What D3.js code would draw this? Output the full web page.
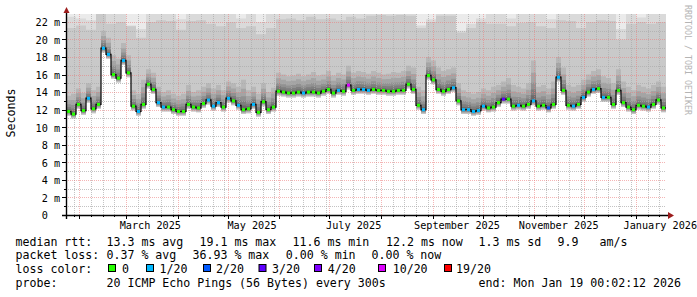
<!DOCTYPE html>
<html>
<head>
<meta charset="utf-8">
<script src="https://cdn.jsdelivr.net/npm/d3@7"></script>
<style>
  html, body { margin: 0; padding: 0; background: #fff; }
  svg { display: block; }
  text { font-family: "DejaVu Sans Mono", "Liberation Mono", monospace; white-space: pre; }
</style>
</head>
<body>
<svg id="chart" width="697" height="297"></svg>
<script>
// ---------------- data ----------------
const endTime = new Date(Date.UTC(2026, 0, 19, 0, 2, 12));
const spanDays = 360;
const stepDays = 3;          // one value every 3 days
const yMax = 22.9;           // ms, top of the plot

// median rtt (ms), one value per 3 days
const median = [
  11.8, 11.5, 12.6, 11.9, 13.3, 12.1, 12.6, 19.0, 18.3, 16.0,
  15.6, 17.6, 16.2, 12.4, 11.8, 12.6, 14.9, 14.3, 12.8, 12.3,
  12.3, 12.0, 11.8, 11.8, 12.6, 12.3, 12.2, 12.7, 13.1, 12.4,
  12.8, 12.3, 13.3, 13.0, 12.5, 12.0, 12.1, 12.6, 11.7, 12.9,
  12.0, 12.3, 14.1, 14.0, 13.9, 13.9, 14.0, 13.9, 14.0, 14.0,
  13.9, 14.1, 14.3, 13.9, 14.2, 14.1, 14.8, 14.2, 14.3, 14.3,
  14.2, 14.3, 14.2, 14.2, 14.1, 14.1, 14.2, 14.2, 14.9, 14.3,
  12.5, 12.0, 15.9, 15.4, 14.3, 14.1, 14.3, 14.5, 13.0, 12.0,
  12.0, 11.8, 11.9, 12.4, 12.2, 12.3, 12.8, 13.2, 13.2, 12.4,
  12.5, 12.4, 12.6, 13.0, 12.4, 12.5, 12.2, 12.6, 15.7, 14.2,
  12.5, 12.4, 12.6, 13.4, 14.0, 14.3, 14.4, 13.4, 13.4, 12.6,
  14.2, 12.8, 12.3, 12.0, 12.5, 12.4, 12.3, 12.6, 13.1, 12.2
];

// lost pings out of 20, per median value
const loss = [
  0, 0, 0, 0, 1, 0, 0, 1, 1, 0,
  0, 1, 0, 0, 1, 0, 0, 0, 1, 1,
  0, 0, 0, 0, 0, 0, 0, 0, 1, 1,
  1, 0, 1, 0, 1, 0, 0, 1, 0, 0,
  0, 0, 0, 0, 0, 0, 0, 1, 0, 0,
  0, 0, 0, 0, 1, 0, 10, 0, 1, 1,
  1, 0, 0, 0, 0, 0, 0, 0, 0, 0,
  0, 1, 0, 0, 0, 0, 0, 1, 0, 1,
  1, 1, 1, 1, 0, 0, 0, 3, 0, 0,
  1, 0, 0, 1, 0, 0, 2, 0, 1, 0,
  0, 1, 0, 1, 0, 1, 0, 1, 0, 0,
  0, 0, 0, 0, 0, 0, 1, 0, 0, 0
];

// upper edge of the dense smoke above the median (ms), per median value
const smokeUpper = [
  13.6, 13.8, 14.4, 13.9, 15.0, 14.2, 14.6,
  21.0, 20.2, 18.2, 17.8, 19.6, 18.2,
  14.2, 13.8,
  15.4, 16.6, 16.2,
  14.6, 14.0, 14.2, 13.8, 13.6, 13.8,
  14.8, 14.0, 14.2, 14.6, 15.0, 14.4, 14.8, 14.2, 15.2, 15.0,
  14.6, 15.4, 14.2, 14.6, 13.8, 15.0, 14.0, 14.5,
  16.2, 16.0, 15.8, 15.9, 16.1, 15.8, 16.0, 16.3, 15.9, 16.0, 16.4, 15.9, 16.2,
  16.0, 17.0, 16.2, 16.4, 16.3, 16.1, 16.4, 16.2, 16.0, 16.1, 16.3, 16.2, 16.4,
  17.0, 16.8,
  14.6, 14.2,
  18.0, 17.6, 16.8, 16.4, 16.6, 16.8,
  15.0, 14.2, 14.0, 13.8, 14.0, 14.4, 14.2, 14.6,
  14.8, 15.2, 15.6, 14.8, 14.6, 14.4, 15.0, 17.6, 14.6, 14.8, 14.4, 15.2,
  18.0, 16.8,
  14.8, 14.6, 14.8, 15.4, 16.0, 16.4, 16.6, 15.8, 15.6, 15.0,
  16.6, 15.2, 14.6, 14.2, 14.8, 14.6, 14.4, 14.8, 15.2, 14.6
];

// 3rd highest ping (ms), one value per 6 days
const pingHigh = [
  21.3, 21.6, 21.1, 22.9, 21.8, 22.0, 21.5, 20.2, 22.0, 22.2,
  22.1, 21.1, 22.1, 22.2, 21.8, 21.5, 22.0, 21.3, 21.5, 20.6,
  21.3, 22.3, 22.4, 22.2, 22.6, 22.3, 22.4, 22.2, 22.6, 22.4,
  22.7, 22.8, 22.7, 22.8, 22.7, 21.3, 22.0, 22.7, 22.7, 20.8,
  21.3, 22.0, 21.8, 21.8, 21.5, 21.9, 22.0, 21.5, 21.3, 22.2,
  22.1, 21.3, 22.0, 22.2, 22.1, 20.0, 21.8, 22.0, 21.8, 22.0
];

// 2nd highest ping (ms), one value per 6 days
const pingHigher = [
  22.6, 22.4, 22.2, 23.0, 23.0, 23.0, 21.6, 21.2, 23.0, 23.0,
  23.0, 22.3, 23.0, 23.0, 23.0, 23.0, 23.0, 22.4, 23.0, 22.0,
  23.0, 23.0, 23.0, 23.0, 23.0, 23.0, 23.0, 23.0, 23.0, 23.0,
  23.0, 23.0, 23.0, 23.0, 23.0, 21.6, 22.3, 23.0, 23.0, 21.0,
  21.8, 22.4, 23.0, 23.0, 22.4, 23.0, 23.0, 23.0, 22.3, 23.0,
  23.0, 23.0, 23.0, 23.0, 23.0, 21.2, 23.0, 22.5, 23.0, 23.0
];

const yTickValues = [0, 2, 4, 6, 8, 10, 12, 14, 16, 18, 20, 22];
const xLabelMonths = ["2025-03", "2025-05", "2025-07", "2025-09", "2025-11", "2026-01"];

const lossLevels = [0, 1, 2, 3, 4, 10, 19];
const lossLabels = ["0", "1/20", "2/20", "3/20", "4/20", "10/20", "19/20"];

const rttStats = ["13.3 ms avg", "19.1 ms max", "11.6 ms min", "12.2 ms now", "1.3 ms sd", "9.9", "am/s"];
const lossStats = ["0.37 % avg", "36.93 % max", "0.00 % min", "0.00 % now"];
const probeText = "20 ICMP Echo Pings (56 Bytes) every 300s";
const endText = "end: Mon Jan 19 00:02:12 2026";

// ---------------- styles / layout ----------------
const lossColors = ["#26ff00", "#00b8ff", "#0059ff", "#5e00ff", "#7e00ff", "#dd00ff", "#ff0000"];
const P = { left: 66, right: 666, top: 14, bottom: 215 };

const svg = d3.select("#chart");
const startTime = d3.utcDay.offset(endTime, -spanDays);
const x = d3.scaleUtc().domain([startTime, endTime]).range([P.left, P.right]);
const y = d3.scaleLinear().domain([0, yMax]).range([P.bottom, P.top]);

const rows = median.map((m, i) => ({
  t: d3.utcDay.offset(startTime, i * stepDays),
  t2: i === median.length - 1 ? endTime : d3.utcDay.offset(startTime, (i + 1) * stepDays),
  m,
  loss: loss[i],
  up: smokeUpper[i],
  high: pingHigh[Math.floor(i / 2)],
  higher: pingHigher[Math.floor(i / 2)]
}));
const rowsExt = rows.concat([Object.assign({}, rows[rows.length - 1], { t: endTime })]);

svg.append("defs").append("clipPath").attr("id", "plotclip")
  .append("rect").attr("x", P.left).attr("y", P.top)
  .attr("width", P.right - P.left).attr("height", P.bottom - P.top);

const plotG = svg.append("g").attr("clip-path", "url(#plotclip)");

const cl = v => Math.min(v, yMax);
const bands = [
  { lo: d => d.m - 0.5,  hi: d => yMax,                     color: "#ebebeb" },
  { lo: d => d.m - 0.5,  hi: d => cl(d.higher),             color: "#dadada" },
  { lo: d => d.m - 0.5,  hi: d => cl(d.high),               color: "#c9c9c9" },
  { lo: d => d.m - 0.4,  hi: d => cl(d.up),                 color: "#b7b7b7" },
  { lo: d => d.m - 0.32, hi: d => d.m + 0.7 * (d.up - d.m), color: "#a4a4a4" },
  { lo: d => d.m - 0.25, hi: d => d.m + 0.45 * (d.up - d.m), color: "#919191" },
  { lo: d => d.m - 0.18, hi: d => d.m + 0.28 * (d.up - d.m), color: "#7e7e7e" },
  { lo: d => d.m - 0.12, hi: d => d.m + 0.14 * (d.up - d.m), color: "#6b6b6b" }
];
bands.forEach(b => {
  plotG.append("path").datum(rowsExt)
    .attr("fill", b.color)
    .attr("d", d3.area().curve(d3.curveStepAfter)
      .x(d => x(d.t)).y0(d => y(b.lo(d))).y1(d => y(b.hi(d))));
});

// ---------------- grid ----------------
const gridG = svg.append("g").attr("shape-rendering", "crispEdges");
const monthStarts = d3.utcMonth.range(d3.utcMonth.ceil(startTime), endTime);
const weekLines = d3.utcDay.range(startTime, endTime)
  .filter(d => [8, 15, 22, 29].includes(d.getUTCDate()));
const minorColor = "rgba(170,170,170,0.7)";
const majorColor = "rgba(235,120,120,0.55)";

weekLines.forEach(d => {
  const xx = Math.round(x(d)) + 0.5;
  gridG.append("line").attr("x1", xx).attr("x2", xx).attr("y1", P.top).attr("y2", P.bottom)
    .attr("stroke", minorColor).attr("stroke-dasharray", "1,1");
});
d3.range(1, 23, 2).forEach(v => {
  const yy = Math.round(y(v)) + 0.5;
  gridG.append("line").attr("x1", P.left).attr("x2", P.right).attr("y1", yy).attr("y2", yy)
    .attr("stroke", minorColor).attr("stroke-dasharray", "1,1");
});
monthStarts.forEach(d => {
  const xx = Math.round(x(d)) + 0.5;
  gridG.append("line").attr("x1", xx).attr("x2", xx).attr("y1", P.top).attr("y2", P.bottom)
    .attr("stroke", majorColor).attr("stroke-dasharray", "1,1");
});
yTickValues.filter(v => v > 0).forEach(v => {
  const yy = Math.round(y(v)) + 0.5;
  gridG.append("line").attr("x1", P.left).attr("x2", P.right).attr("y1", yy).attr("y2", yy)
    .attr("stroke", majorColor).attr("stroke-dasharray", "1,1");
});

// ---------------- median line ----------------
const medG = svg.append("g").attr("clip-path", "url(#plotclip)");
medG.append("path").datum(rowsExt)
  .attr("fill", "none").attr("stroke", "#111").attr("stroke-width", 1.3)
  .attr("d", d3.line().curve(d3.curveStepAfter).x(d => x(d.t)).y(d => y(d.m)));
const lossColorOf = n => {
  let idx = 0;
  lossLevels.forEach((lv, k) => { if (n >= lv) idx = k; });
  return lossColors[idx];
};
medG.selectAll("rect.med").data(rows).enter().append("rect")
  .attr("x", d => x(d.t) + 1).attr("width", d => Math.max(1, x(d.t2) - x(d.t) - 2))
  .attr("y", d => y(d.m) - 1.5).attr("height", 3)
  .attr("fill", d => lossColorOf(d.loss));

// ---------------- axes ----------------
const axG = svg.append("g");
axG.append("line").attr("x1", 62).attr("x2", 669).attr("y1", P.bottom + 0.5).attr("y2", P.bottom + 0.5)
  .attr("stroke", "#000").attr("stroke-width", 1.4);
axG.append("line").attr("x1", P.left + 0.5).attr("x2", P.left + 0.5).attr("y1", 219).attr("y2", 11)
  .attr("stroke", "#000").attr("stroke-width", 1.4);
axG.append("path").attr("d", "M668,212 L674,215.5 L668,219 Z").attr("fill", "#9c1c1c");
axG.append("path").attr("d", "M63.5,13 L66.5,7 L69.5,13 Z").attr("fill", "#9c1c1c");

monthStarts.forEach(d => {
  const xx = Math.round(x(d)) + 0.5;
  axG.append("line").attr("x1", xx).attr("x2", xx).attr("y1", P.bottom).attr("y2", P.bottom + 4)
    .attr("stroke", "#000");
});
weekLines.forEach(d => {
  const xx = Math.round(x(d)) + 0.5;
  axG.append("line").attr("x1", xx).attr("x2", xx).attr("y1", P.bottom).attr("y2", P.bottom + 2)
    .attr("stroke", "#000");
});
yTickValues.forEach(v => {
  const yy = Math.round(y(v)) + 0.5;
  axG.append("line").attr("x1", P.left - 4).attr("x2", P.left).attr("y1", yy).attr("y2", yy).attr("stroke", "#000");
});
d3.range(1, 23, 2).forEach(v => {
  const yy = Math.round(y(v)) + 0.5;
  axG.append("line").attr("x1", P.left - 2).attr("x2", P.left).attr("y1", yy).attr("y2", yy).attr("stroke", "#000");
});

// y labels
const fmtY = v => (v === 0 ? " 0  " : (v < 10 ? " " + v : "" + v) + " m");
yTickValues.forEach(v => {
  svg.append("text").attr("x", 35.5).attr("y", y(v) + 4.3)
    .attr("font-size", "10.2px").attr("fill", "#000").text(fmtY(v));
});

// x labels (centered mid-month)
const fmtMonth = d3.utcFormat("%B %Y");
xLabelMonths.forEach(s => {
  const ms = d3.utcParse("%Y-%m")(s);
  const pos = new Date(ms.getTime() + 14.6 * 86400000);
  svg.append("text").attr("x", x(pos)).attr("y", 228.5)
    .attr("text-anchor", "middle").attr("font-size", "10.2px").attr("fill", "#000")
    .text(fmtMonth(ms));
});

// unit label
svg.append("text").attr("transform", "translate(15,113) rotate(-90)")
  .attr("text-anchor", "middle").attr("font-size", "11.6px").attr("fill", "#000").text("Seconds");

// watermark
svg.append("text").attr("transform", "translate(685,5) rotate(90)")
  .attr("font-size", "8.3px").attr("fill", "#b4b4b4").text("RRDTOOL / TOBI OETIKER");

// ---------------- legend ----------------
const LG = svg.append("g").attr("font-size", "11.6px").attr("fill", "#000");
const rowY = [245.5, 259.3, 273, 287];
LG.append("text").attr("x", 15.5).attr("y", rowY[0]).text("median rtt:");
[106.5, 199.5, 292.5, 386, 478.5, 557.5, 599.5].forEach((px, k) => {
  LG.append("text").attr("x", px).attr("y", rowY[0]).text(rttStats[k]);
});
LG.append("text").attr("x", 15.5).attr("y", rowY[1]).text("packet loss:");
[106.5, 192.5, 285.8, 371.5].forEach((px, k) => {
  LG.append("text").attr("x", px).attr("y", rowY[1]).text(lossStats[k]);
});
LG.append("text").attr("x", 15.5).attr("y", rowY[2]).text("loss color:");
const boxX = [108, 146, 203, 258.5, 314, 378, 444];
const labX = [122, 159.5, 216, 272, 327.7, 392.7, 456];
lossLevels.forEach((lv, k) => {
  LG.append("rect").attr("x", boxX[k] + 0.5).attr("y", 264.5).attr("width", 7).attr("height", 7)
    .attr("fill", lossColors[k]).attr("stroke", "#000").attr("stroke-width", 1);
  LG.append("text").attr("x", labX[k]).attr("y", rowY[2]).text(lossLabels[k]);
});
LG.append("text").attr("x", 15.5).attr("y", rowY[3]).text("probe:");
LG.append("text").attr("x", 106.5).attr("y", rowY[3]).text(probeText);
LG.append("text").attr("x", 681).attr("y", rowY[3]).attr("text-anchor", "end").text(endText);
</script>
</body>
</html>
